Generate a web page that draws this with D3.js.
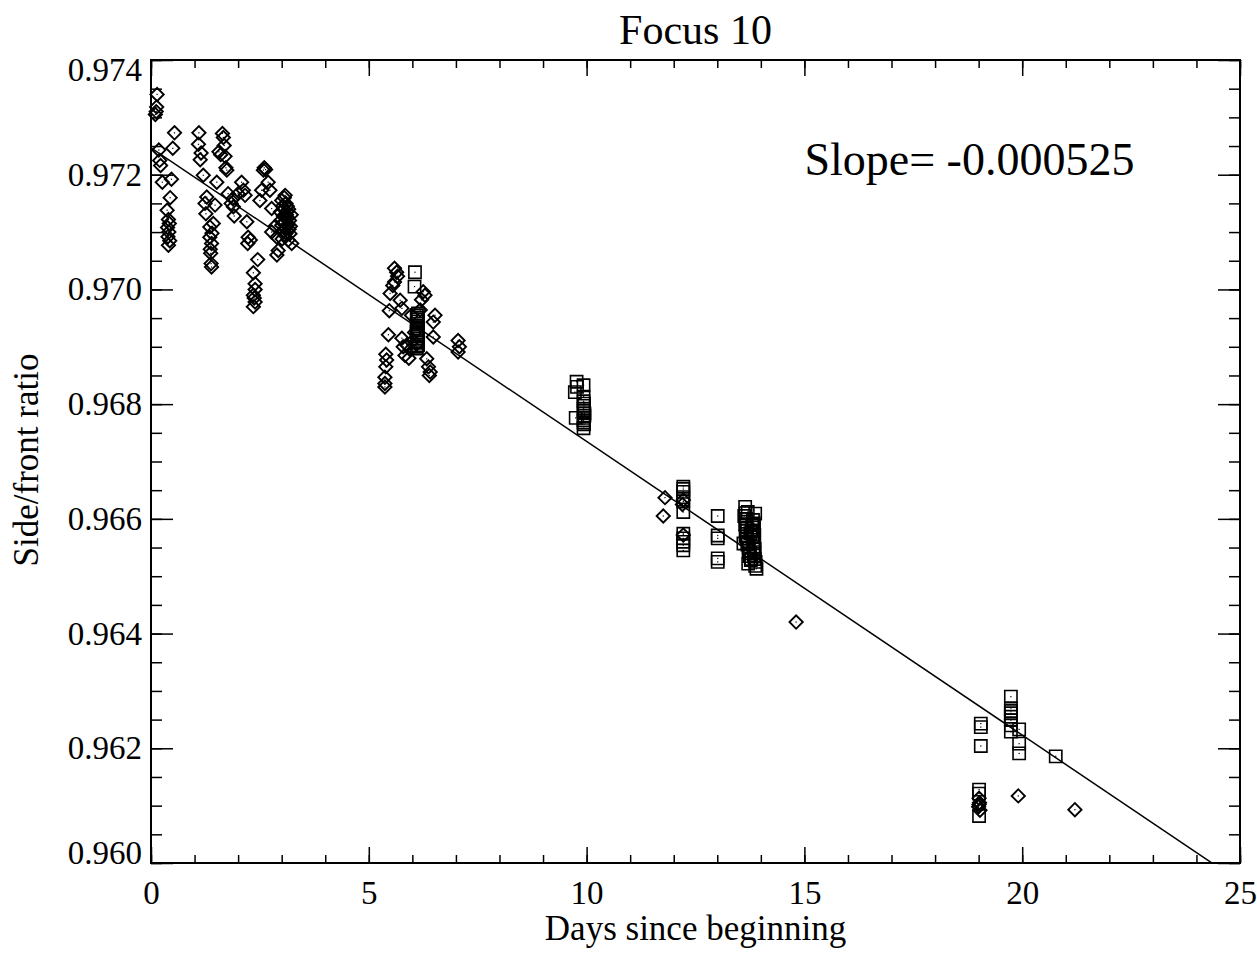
<!DOCTYPE html>
<html>
<head>
<meta charset="utf-8">
<script src="https://cdn.jsdelivr.net/npm/d3@7"></script>
<style>
  body { margin: 0; background: #fff; }
  text { font-family: "Liberation Serif", "Times New Roman", serif; fill: #000; }
</style>
</head>
<body>
<div id="my_dataviz"></div>
<script>
// diamond points (day, ratio)
const diamondDays = [
  0.14, 0.12, 0.10, 0.13, 0.18, 0.22, 0.20, 0.26, 0.54, 0.50, 0.47, 0.44, 0.37, 0.40, 0.42, 0.38, 0.41, 0.39, 0.43, 0.40,
  1.10, 1.09, 1.15, 1.13, 1.20, 1.28, 1.24, 1.47, 1.26, 1.35, 1.43, 1.35, 1.39, 1.37, 1.38, 1.39, 1.36, 1.40,
  1.64, 1.66, 1.68, 1.56, 1.60, 1.70, 1.74, 1.72, 1.51, 1.77, 1.84, 1.88, 1.91, 2.08, 2.12, 2.00, 2.16, 1.89, 2.20, 2.23,
  2.22, 2.28, 2.45, 2.35, 2.39, 2.39, 2.35, 2.39, 2.35, 2.37,
  2.63, 2.58, 2.60, 2.69, 2.73, 2.54, 2.50, 2.77, 2.77, 2.89, 2.89, 2.92, 2.85,
  3.08, 3.00, 3.19, 3.23, 3.15, 3.02, 3.05, 3.10, 3.12, 3.04, 3.14, 3.06, 3.18, 3.00, 3.09, 3.13, 3.03, 3.16, 3.07, 3.11,
  3.20, 3.01, 3.06, 3.17, 3.10, 3.13, 2.98, 3.22, 3.08, 2.97,
  5.59, 5.64, 5.66, 5.59, 5.55, 5.49, 5.72, 5.76, 5.47, 5.45, 5.39, 5.41, 5.39, 5.37, 5.37, 5.37, 5.76, 5.79, 5.83, 5.87,
  5.98, 6.25, 6.29, 6.21, 6.18, 6.52, 6.48, 6.48, 6.33, 6.37, 6.41, 6.39, 7.05, 7.08, 7.05, 6.02, 5.95, 6.05, 6.10, 5.92,
  11.80, 11.76, 12.22, 12.22, 12.20,
  14.81, 19.91, 21.21, 19.01, 19.02, 19.00, 19.03, 19.01
];
const diamondRatio = [
  0.97340, 0.97310, 0.97305, 0.97318, 0.97243, 0.97216, 0.97225, 0.97187, 0.97273, 0.97246, 0.97192, 0.97160, 0.97138, 0.97122, 0.97115, 0.97108, 0.97100, 0.97092, 0.97085, 0.97077,
  0.97273, 0.97253, 0.97238, 0.97226, 0.97199, 0.97161, 0.97150, 0.97147, 0.97132, 0.97109, 0.97115, 0.97091, 0.97080, 0.97063, 0.97045, 0.97039, 0.97070, 0.97098,
  0.97272, 0.97265, 0.97251, 0.97240, 0.97235, 0.97232, 0.97208, 0.97212, 0.97187, 0.97167, 0.97150, 0.97158, 0.97128, 0.97187, 0.97173, 0.97167, 0.97164, 0.97144, 0.97118, 0.97091,
  0.97080, 0.97086, 0.97052, 0.97029, 0.97010, 0.97000, 0.96990, 0.96978, 0.96970, 0.96985,
  0.97209, 0.97208, 0.97212, 0.97187, 0.97173, 0.97173, 0.97155, 0.97141, 0.97100, 0.97091, 0.97060, 0.97068, 0.97110,
  0.97164, 0.97155, 0.97097, 0.97080, 0.97086, 0.97145, 0.97140, 0.97150, 0.97135, 0.97128, 0.97125, 0.97118, 0.97120, 0.97112, 0.97108, 0.97112, 0.97102, 0.97140, 0.97095, 0.97130,
  0.97110, 0.97088, 0.97160, 0.97105, 0.97098, 0.97145, 0.97120, 0.97130, 0.97125, 0.97135,
  0.97037, 0.97030, 0.97023, 0.97013, 0.97007, 0.96993, 0.96981, 0.96967, 0.96963, 0.96921, 0.96887, 0.96877, 0.96865, 0.96847, 0.96836, 0.96830, 0.96915, 0.96900, 0.96885, 0.96903,
  0.96955, 0.96996, 0.96990, 0.96982, 0.96964, 0.96955, 0.96943, 0.96917, 0.96879, 0.96865, 0.96856, 0.96850, 0.96911, 0.96900, 0.96891, 0.96911, 0.96895, 0.96925, 0.96905, 0.96880,
  0.96637, 0.96605, 0.96633, 0.96572, 0.96625,
  0.96420, 0.96117, 0.96093, 0.96113, 0.96105, 0.96098, 0.96092, 0.96102
];

// square points (day, ratio)
const squareDays = [
  6.06, 6.05, 6.10, 6.12, 6.10, 6.13, 6.10, 6.12, 6.11, 6.13, 6.10, 6.12, 6.11, 6.12, 6.10, 6.13, 6.11, 6.12, 6.10, 6.13,
  9.77, 9.93, 9.73, 9.93, 9.75, 9.93, 9.94, 9.93, 9.95, 9.93, 9.94, 9.93, 9.78, 9.94, 9.93, 9.95, 9.94, 9.93,
  12.22, 12.22, 12.22, 12.22, 12.22, 12.22, 12.22, 12.22, 12.22, 12.22, 12.22,
  13.01, 13.01, 13.01, 13.01, 13.01,
  13.64, 13.87, 13.60, 13.71, 13.90, 13.65, 13.66, 13.64, 13.68, 13.65, 13.70, 13.72, 13.75, 13.78, 13.82, 13.84, 13.85, 13.83, 13.86, 13.84,
  13.88, 13.80, 13.76, 13.62, 13.70, 13.66, 13.68, 13.67, 13.69, 13.72, 13.74, 13.77, 13.79, 13.81, 13.83, 13.85, 13.86, 13.87, 13.84, 13.82,
  19.05, 19.05, 19.05, 19.01, 19.01, 19.01, 19.74, 19.74, 19.74, 19.74, 19.74, 19.74, 19.74, 19.74, 19.93, 19.93, 19.93, 20.77
];
const squareRatio = [
  0.97030, 0.97005, 0.96955, 0.96948, 0.96940, 0.96932, 0.96925, 0.96918, 0.96910, 0.96903, 0.96897, 0.96944, 0.96951, 0.96936, 0.96929, 0.96921, 0.96914, 0.96907, 0.96900, 0.96958,
  0.96839, 0.96833, 0.96821, 0.96813, 0.96776, 0.96805, 0.96797, 0.96788, 0.96780, 0.96772, 0.96765, 0.96758, 0.96830, 0.96801, 0.96792, 0.96784, 0.96776, 0.96768,
  0.96656, 0.96647, 0.96638, 0.96612, 0.96574, 0.96566, 0.96554, 0.96545, 0.96630, 0.96652, 0.96560,
  0.96605, 0.96571, 0.96566, 0.96531, 0.96525,
  0.96621, 0.96609, 0.96557, 0.96522, 0.96513, 0.96610, 0.96600, 0.96590, 0.96580, 0.96570, 0.96560, 0.96550, 0.96540, 0.96530, 0.96598, 0.96585, 0.96572, 0.96560, 0.96548, 0.96536,
  0.96525, 0.96590, 0.96575, 0.96605, 0.96612, 0.96595, 0.96585, 0.96565, 0.96555, 0.96545, 0.96535, 0.96528, 0.96580, 0.96568, 0.96552, 0.96542, 0.96530, 0.96518, 0.96592, 0.96578,
  0.96243, 0.96237, 0.96204, 0.96128, 0.96121, 0.96082, 0.96290, 0.96270, 0.96261, 0.96249, 0.96240, 0.96229, 0.96265, 0.96255, 0.96233, 0.96208, 0.96191, 0.96186
];

// fitted line as drawn, read at its two ends
const fitDays = [0, 25];
const fitRatio = [0.97247, 0.95967];
const slopeLabel = "Slope= -0.000525";

const xMajor = [0, 5, 10, 15, 20, 25];
const xMinor = d3.range(0, 26, 1);
const yMajor = [0.960, 0.962, 0.964, 0.966, 0.968, 0.970, 0.972, 0.974];
const yMinor = d3.range(0, 29).map(i => 0.960 + i * 0.0005);

// set the dimensions and margins of the graph
const margin = { top: 60, right: 17, bottom: 91, left: 151 },
    width = 1257 - margin.left - margin.right,
    height = 954 - margin.top - margin.bottom;

const svgRoot = d3.select("#my_dataviz")
    .append("svg")
    .attr("width", 1257)
    .attr("height", 954);

const svg = svgRoot.append("g")
    .attr("transform", `translate(${margin.left}, ${margin.top})`);

const x = d3.scaleLinear().domain([0, 25]).range([0, width]);
const y = d3.scaleLinear().domain([0.960, 0.974]).range([height, 0]);

svg.append("clipPath").attr("id", "plotclip")
    .append("rect").attr("width", width).attr("height", height);

// minor ticks, all four sides
const styleAxis = g => {
    g.select(".domain").remove();
    g.selectAll(".tick line").attr("stroke", "#000").attr("stroke-width", 1.5);
};
svg.append("g").attr("transform", `translate(0, ${height})`)
    .call(d3.axisBottom(x).tickValues(xMinor).tickSize(-8).tickFormat(""))
    .call(styleAxis);
svg.append("g")
    .call(d3.axisTop(x).tickValues(xMinor).tickSize(-8).tickFormat(""))
    .call(styleAxis);
svg.append("g")
    .call(d3.axisLeft(y).tickValues(yMinor).tickSize(-11).tickFormat(""))
    .call(styleAxis);
svg.append("g").attr("transform", `translate(${width}, 0)`)
    .call(d3.axisRight(y).tickValues(yMinor).tickSize(-11).tickFormat(""))
    .call(styleAxis);

// major ticks + labels
svg.append("g").attr("transform", `translate(0, ${height})`)
    .call(d3.axisBottom(x).tickValues(xMajor).tickSize(-16).tickPadding(18).tickFormat(d3.format("d")))
    .call(styleAxis)
    .selectAll("text").style("font-size", "33px");
svg.append("g")
    .call(d3.axisTop(x).tickValues(xMajor).tickSize(-16).tickFormat(""))
    .call(styleAxis);
const yAx = svg.append("g")
    .call(d3.axisLeft(y).tickValues(yMajor).tickSize(-22).tickPadding(9).tickFormat(d3.format(".3f")))
    .call(styleAxis);
yAx.selectAll("text").style("font-size", "33px");
// end labels are nudged inward like the original
yAx.selectAll("text").filter(d => d === 0.974).attr("dy", "0.62em");
yAx.selectAll("text").filter(d => d === 0.960).attr("dy", "0.02em");
svg.append("g").attr("transform", `translate(${width}, 0)`)
    .call(d3.axisRight(y).tickValues(yMajor).tickSize(-22).tickFormat(""))
    .call(styleAxis);

// plot box
svg.append("rect")
    .attr("width", width).attr("height", height)
    .attr("fill", "none").attr("stroke", "#000").attr("stroke-width", 2);

// regression line
const line = d3.line().x(d => x(d[0])).y(d => y(d[1]));
svg.append("path")
    .datum(fitDays.map((d, i) => [d, fitRatio[i]]))
    .attr("clip-path", "url(#plotclip)")
    .attr("d", line)
    .attr("fill", "none").attr("stroke", "#000").attr("stroke-width", 1.5);

// markers
const diamonds = diamondDays.map((d, i) => ({ day: d, ratio: diamondRatio[i] }));
const squares = squareDays.map((d, i) => ({ day: d, ratio: squareRatio[i] }));

const diamondSym = d3.symbol(d3.symbolSquare, 88);
const squareSym = d3.symbol(d3.symbolSquare, 150);

const dg = svg.append("g").selectAll("g")
    .data(diamonds).join("g")
    .attr("transform", d => `translate(${x(d.day)}, ${y(d.ratio)})`);
dg.append("path")
    .attr("d", diamondSym)
    .attr("transform", "rotate(45)")
    .attr("fill", "none").attr("stroke", "#000").attr("stroke-width", 1.9);
dg.append("rect").attr("x", -0.6).attr("y", -0.6).attr("width", 1.2).attr("height", 1.2).attr("fill", "#000");

const sg = svg.append("g").selectAll("g")
    .data(squares).join("g")
    .attr("transform", d => `translate(${x(d.day)}, ${y(d.ratio)})`);
sg.append("path")
    .attr("d", squareSym)
    .attr("fill", "none").attr("stroke", "#000").attr("stroke-width", 1.6);
sg.append("rect").attr("x", -0.6).attr("y", -0.6).attr("width", 1.2).attr("height", 1.2).attr("fill", "#000");

// texts
svgRoot.append("text")
    .attr("x", margin.left + width / 2).attr("y", 44)
    .attr("text-anchor", "middle").style("font-size", "42px")
    .text("Focus 10");

svg.append("text")
    .attr("x", x(15.0)).attr("y", y(0.97200))
    .style("font-size", "46px")
    .text(slopeLabel);

svgRoot.append("text")
    .attr("x", margin.left + width / 2).attr("y", 940)
    .attr("text-anchor", "middle").style("font-size", "35px")
    .text("Days since beginning");

svgRoot.append("text")
    .attr("transform", `translate(38, 460) rotate(-90)`)
    .attr("text-anchor", "middle").style("font-size", "35px")
    .text("Side/front ratio");
</script>
</body>
</html>
